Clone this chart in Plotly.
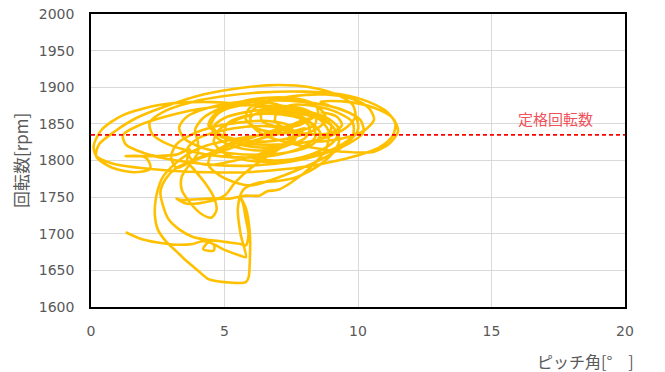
import plotly.graph_objects as go

# Pitch angle [deg] and rotor speed [rpm] along the recorded trajectory
pitch = [
    1.3, 1.8, 2.5, 3.2, 3.8, 4.2, 4.6, 4.6, 4.2, 4.4, 5.0, 5.6, 5.8,
    5.6, 5.5, 5.7, 6.3, 7.0, 7.6, 8.0,
    8.6, 9.1, 9.3, 9.0, 8.3, 7.3, 6.3, 5.4, 4.8, 4.6, 4.9, 5.6, 6.6, 7.6, 8.5, 9.1, 9.3, 8.9, 8.0, 6.8,
    5.4, 4.0, 2.8, 1.8, 1.2, 1.3, 2.0, 3.2, 4.6, 6.0, 7.4, 8.6, 9.6, 10.2, 10.1, 9.5, 8.4, 7.0, 5.6, 4.4,
    3.6, 3.3, 3.5, 4.2, 5.2, 6.4, 7.5, 8.3, 8.6, 8.3, 7.6, 6.6, 5.7, 5.1, 5.0, 5.4, 6.2, 7.2, 8.0, 8.2,
    7.8, 7.0, 5.8, 4.2, 2.6, 1.2, 0.4, 0.1, 0.2, 0.8, 1.8, 3.0, 4.4, 5.8, 7.2, 8.6, 9.8, 10.8, 11.3, 11.4,
    11.1, 10.4, 9.4, 8.0, 6.4, 5.0, 3.8, 2.8, 2.2, 2.3, 2.9, 3.8, 4.8, 5.9, 7.0, 7.9, 8.4, 8.3, 7.8, 7.0,
    6.0, 5.2, 4.7, 4.5, 4.7, 5.3, 6.1, 7.0, 7.6, 7.7,
    7.0, 6.0, 5.0, 4.0, 3.2, 2.8, 2.6, 2.7, 2.9, 3.3, 3.8, 4.3, 4.8, 5.2, 5.6, 5.8,
    5.9, 5.8, 5.7, 5.6, 5.8, 5.95, 5.95, 5.9, 5.8, 5.0, 4.4, 4.0, 3.6, 3.2, 2.8, 2.5, 2.4, 2.4, 2.5, 2.7,
    3.1, 3.6, 4.3, 5.2, 6.2, 7.2, 8.0, 8.5, 8.4, 7.8, 6.8, 5.8, 4.9, 4.2, 3.9, 4.0,
    4.0, 3.7, 3.4, 3.4, 3.7, 4.1, 4.5, 4.7, 4.6, 4.3, 3.9, 3.6, 3.7,
    3.2, 2.4, 1.6, 1.3, 2.0, 2.2, 2.2,
    1.6, 0.8, 0.2, 0.3, 0.9, 1.7, 2.8, 4.2, 5.6, 7.0, 8.2, 9.2, 9.8, 9.9, 9.6, 9.0, 8.2, 7.2, 6.2, 5.4,
    4.8, 4.6, 5.0, 5.8, 6.8, 7.8, 8.6, 9.0, 8.9, 8.4,
    9.4, 10.2, 10.6, 10.4, 9.8, 8.8, 7.6, 6.6, 6.0, 6.0, 6.4, 7.2, 8.2, 9.4, 10.6, 11.2, 11.5, 11.3, 10.6, 9.6, 8.6,
    9.9, 10.0, 9.6, 8.8, 7.8, 6.8, 6.0, 5.4, 4.8, 4.4, 4.5, 5.0, 5.8, 6.8, 7.6, 7.9, 7.4, 6.6, 6.0, 6.0, 6.6, 7.4, 8.0,
    7.6, 6.8, 6.0, 5.4, 5.0, 4.4, 3.6, 3.2, 3.4, 4.4, 5.2, 5.8, 6.3, 6.6, 7.0, 7.5, 8.2, 8.8, 8.9, 8.5, 7.9,
    7.5, 6.8, 6.0, 5.2, 4.6, 4.4, 4.8, 5.6, 6.6, 7.6, 8.4, 8.8, 8.6, 8.0, 7.2, 6.4, 5.9, 5.8, 6.2, 7.0,
    7.8, 8.4, 8.4, 7.8, 7.0, 6.4, 6.4, 7.0, 7.8, 8.2,
    7.6, 6.6, 5.6, 4.6, 3.8, 3.2, 3.0, 3.2, 3.8, 4.6, 5.6, 6.6, 7.4, 7.6, 7.2, 6.4, 5.4, 4.4, 3.8, 3.6,
    4.0, 4.8, 5.8, 6.8, 7.4, 7.4, 6.8, 6.0,
    7.0, 8.2, 9.2, 9.8, 9.8, 9.2, 8.4, 7.6, 7.0, 6.9, 7.4, 8.2, 9.0, 9.4, 9.2, 8.6,
]
rpm = [
    1702, 1694, 1688, 1685, 1686, 1690, 1685, 1677, 1679, 1688, 1678, 1670, 1668,
    1700, 1735, 1760, 1770, 1772, 1776, 1782,
    1795, 1812, 1830, 1848, 1860, 1866, 1864, 1855, 1842, 1826, 1812, 1802, 1798, 1802, 1812, 1826, 1842, 1857, 1868, 1874,
    1875, 1870, 1860, 1848, 1835, 1822, 1810, 1800, 1794, 1793, 1798, 1808, 1822, 1838, 1855, 1868, 1878, 1882, 1880, 1872,
    1860, 1845, 1830, 1817, 1810, 1808, 1812, 1822, 1836, 1850, 1860, 1864, 1860, 1850, 1836, 1824, 1818, 1820, 1830, 1845,
    1858, 1868, 1876, 1880, 1876, 1862, 1842, 1820, 1806, 1796, 1790, 1786, 1784, 1784, 1788, 1795, 1805, 1818, 1834, 1850,
    1866, 1880, 1890, 1894, 1893, 1888, 1880, 1868, 1852, 1836, 1822, 1812, 1806, 1804, 1808, 1818, 1832, 1848, 1862, 1872,
    1876, 1872, 1862, 1848, 1832, 1820, 1814, 1816, 1826, 1840,
    1836, 1826, 1814, 1802, 1790, 1775, 1757, 1738, 1720, 1706, 1696, 1692, 1690, 1688, 1686, 1684,
    1700, 1720, 1740, 1750, 1735, 1700, 1665, 1640, 1634, 1634, 1638, 1650, 1662, 1676, 1690, 1706, 1722, 1740, 1760, 1778,
    1794, 1808, 1820, 1828, 1834, 1842, 1852, 1864, 1876, 1884, 1886, 1882, 1872, 1858, 1842, 1826,
    1810, 1795, 1778, 1760, 1743, 1728, 1722, 1732, 1750, 1768, 1786, 1800, 1815,
    1808, 1806, 1806, 1806, 1805, 1796, 1788,
    1784, 1790, 1805, 1822, 1840, 1858, 1874, 1890, 1899, 1903, 1900, 1890, 1876, 1860, 1846, 1834, 1826, 1822, 1822, 1826,
    1834, 1846, 1858, 1866, 1870, 1868, 1860, 1848, 1836, 1826,
    1830, 1840, 1856, 1872, 1884, 1890, 1888, 1880, 1866, 1850, 1836, 1826, 1818, 1812, 1812, 1824, 1840, 1858, 1872, 1880, 1880,
    1860, 1842, 1824, 1805, 1788, 1774, 1766, 1770, 1780, 1794, 1808, 1820, 1830, 1838, 1848, 1858, 1866, 1868, 1860, 1848, 1840, 1838, 1844,
    1830, 1810, 1790, 1770, 1752, 1744, 1741, 1748, 1746, 1748, 1748, 1752, 1752, 1758, 1760, 1770, 1790, 1815, 1840, 1858, 1866,
    1870, 1878, 1880, 1874, 1862, 1848, 1836, 1828, 1826, 1832, 1842, 1856, 1870, 1880, 1884, 1880, 1870, 1856, 1844, 1838,
    1840, 1850, 1862, 1872, 1874, 1866, 1854, 1846, 1848, 1858,
    1850, 1838, 1826, 1812, 1800, 1790, 1805, 1822, 1836, 1846, 1852, 1854, 1848, 1836, 1822, 1810, 1800, 1794, 1800, 1815,
    1830, 1840, 1846, 1846, 1838, 1824, 1812, 1804,
    1800, 1806, 1818, 1834, 1852, 1866, 1874, 1876, 1868, 1854, 1842, 1836, 1838, 1848, 1860, 1866,
]

rated_rpm = 1835
rated_label = "定格回転数"
x_range = [0, 20]
y_range = [1600, 2000]

JP_FONT = "Noto Sans CJK JP, Noto Sans, sans-serif"
NUM_FONT = "DejaVu Sans, sans-serif"
GRAY = "#595959"

fig = go.Figure()
fig.add_trace(go.Scatter(
    x=pitch, y=rpm, mode="lines",
    line=dict(color="#FFC000", width=2.6, shape="spline", smoothing=0.8),
    showlegend=False, hoverinfo="skip",
))
fig.add_trace(go.Scatter(
    x=x_range, y=[rated_rpm, rated_rpm], mode="lines",
    line=dict(color="#FF0000", width=1.6, dash="4px,3px"),
    showlegend=False, hoverinfo="skip",
))

fig.add_annotation(
    x=17.4, y=rated_rpm + 23, xref="x", yref="y", text=rated_label,
    showarrow=False, font=dict(family=JP_FONT, size=15, color="#F0505A"),
)
fig.add_annotation(
    x=1.02, y=-0.183, xref="paper", yref="paper", xanchor="right", yanchor="middle",
    text="ピッチ角[°　]", showarrow=False,
    font=dict(family=JP_FONT, size=16, color=GRAY),
)
fig.add_annotation(
    x=-0.132, y=0.5, xref="paper", yref="paper", xanchor="center", yanchor="middle",
    text="回転数[rpm]", textangle=-90, showarrow=False,
    font=dict(family=JP_FONT, size=17, color=GRAY),
)

fig.update_layout(
    width=665, height=372,
    margin=dict(l=91, r=40, t=14, b=65, autoexpand=False),
    paper_bgcolor="white", plot_bgcolor="white",
    font=dict(family=NUM_FONT, size=14, color=GRAY),
)
fig.update_xaxes(
    range=x_range, dtick=5, showgrid=True, gridcolor="#D9D9D9", gridwidth=1,
    showline=True, linecolor="black", linewidth=1.5, mirror=True,
    zeroline=False, ticks="", ticklabelstandoff=10, automargin=False,
    tickfont=dict(family=NUM_FONT, size=14, color=GRAY),
)
fig.update_yaxes(
    range=y_range, dtick=50, showgrid=True, gridcolor="#D9D9D9", gridwidth=1,
    showline=True, linecolor="black", linewidth=1.5, mirror=True,
    zeroline=False, ticks="", ticklabelstandoff=12, automargin=False,
    ticklabeloverflow="allow",
    tickfont=dict(family=NUM_FONT, size=14, color=GRAY),
)

fig.write_html(
    "out.html",
    config={"displayModeBar": False},
    post_script="document.body.style.margin='0';document.body.style.overflow='hidden';",
)
